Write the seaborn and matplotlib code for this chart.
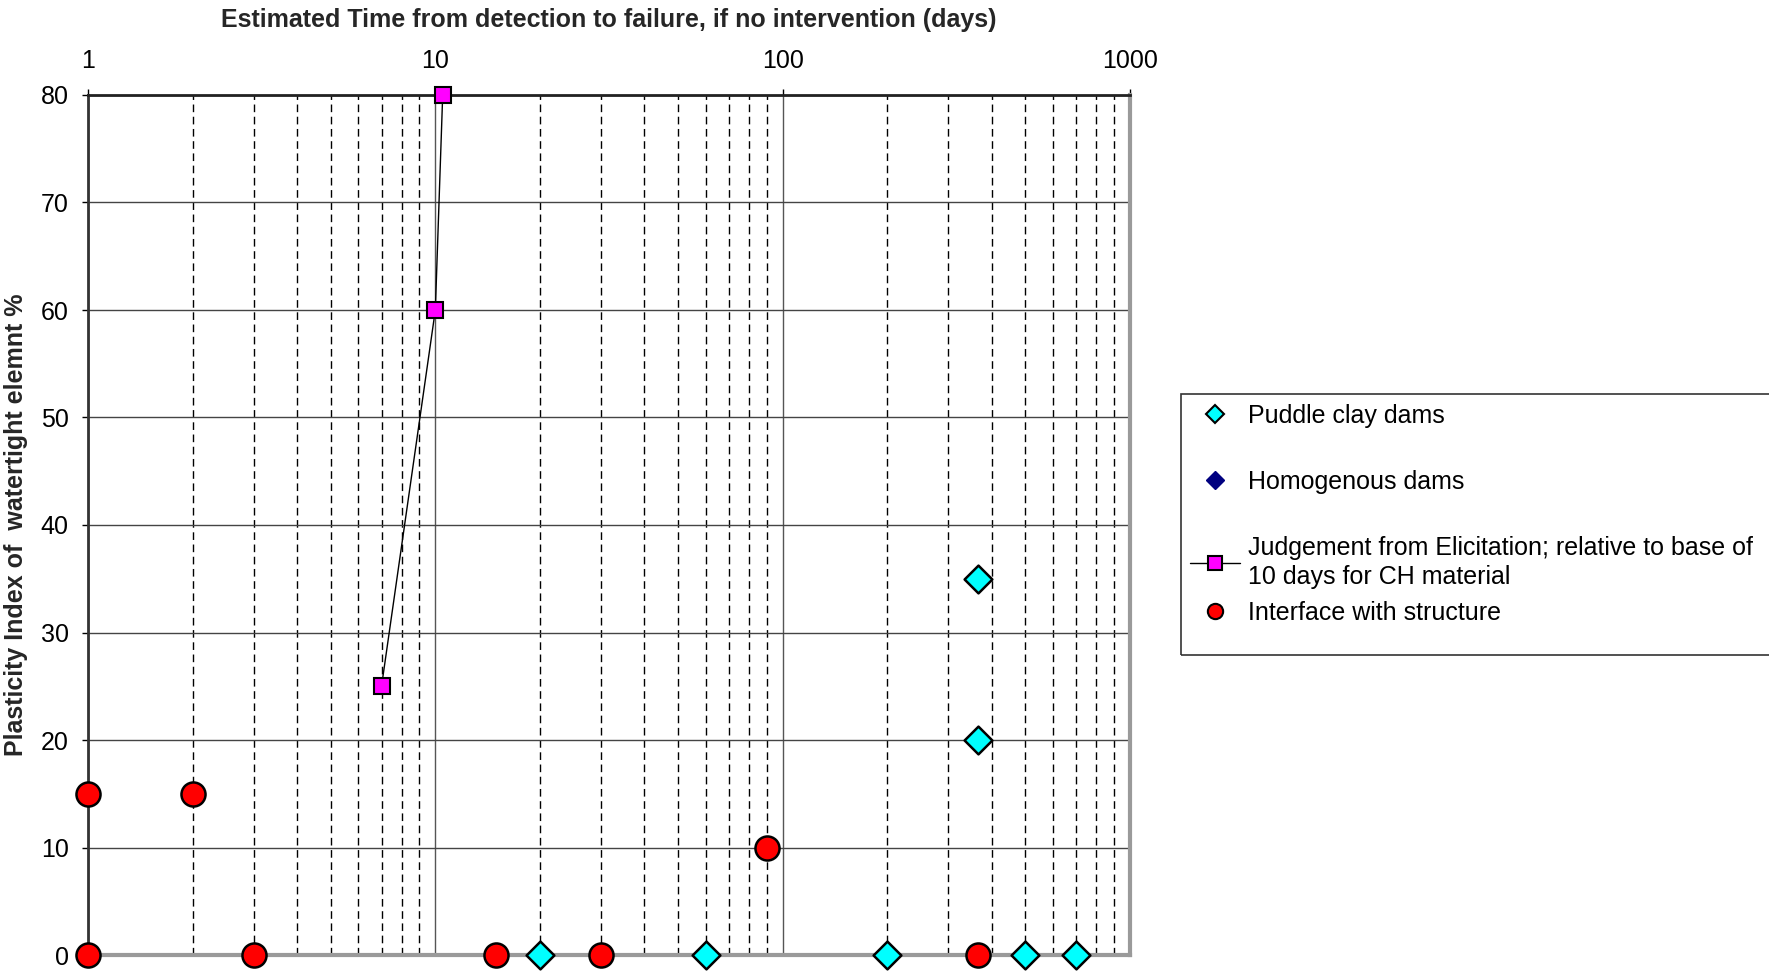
import matplotlib
matplotlib.use("Agg")
import matplotlib.pyplot as plt
from matplotlib.lines import Line2D
from matplotlib.patches import Rectangle
from matplotlib.ticker import FixedLocator, FixedFormatter, NullFormatter
import seaborn as sns
import pandas as pd

# Puddle clay dams
puddle_days = [20, 60, 200, 365, 365, 500, 700]
puddle_pi = [0, 0, 0, 35, 20, 0, 0]

# Homogenous dams (no observations plotted)
homog_days = []
homog_pi = []

# Judgement from elicitation, relative to 10 days for CH material
elicit_days = [7, 10, 10.5]
elicit_pi = [25, 60, 80]

# Interface with structure
interface_days = [1, 2, 1, 3, 15, 30, 90, 365]
interface_pi = [15, 15, 0, 0, 0, 0, 10, 0]

x_ticks = [1, 10, 100, 1000]
x_tick_labels = ["1", "10", "100", "1000"]
y_ticks = [0, 10, 20, 30, 40, 50, 60, 70, 80]

labels = [
    "Puddle clay dams",
    "Homogenous dams",
    "Judgement from Elicitation; relative to base of\n10 days for CH material",
    "Interface with structure",
]

sns.set_style("white")
plt.rcParams["font.family"] = ["Liberation Sans", "DejaVu Sans"]
FS = 18

W, H = 1769, 971
fig = plt.figure(figsize=(W / 100, H / 100), dpi=100)
left, right, top, bottom = 88, 1130, 95, 955
ax = fig.add_axes([left / W, 1 - bottom / H, (right - left) / W, (bottom - top) / H])

ax.set_xscale("log")
ax.set_xlim(1, 1000)
ax.set_ylim(0, 80)

# grid: solid majors, dashed minor decades
ax.set_axisbelow(True)
minor = [m * d for d in (1, 10, 100) for m in range(2, 10)]
ax.xaxis.set_major_locator(FixedLocator(x_ticks))
ax.xaxis.set_major_formatter(FixedFormatter(x_tick_labels))
ax.xaxis.set_minor_locator(FixedLocator(minor))
ax.xaxis.set_minor_formatter(NullFormatter())
ax.yaxis.set_major_locator(FixedLocator(y_ticks))
ax.grid(which="major", axis="y", color="#444444", lw=1.0)
ax.grid(which="major", axis="x", color="#555555", lw=1.0)
ax.grid(which="minor", axis="x", color="black", lw=1.0, ls=(0, (5.5, 3.3)))

ax.xaxis.tick_top()
ax.xaxis.set_label_position("top")
ax.tick_params(axis="x", which="major", top=True, bottom=False, length=4,
               width=1, direction="out", pad=12, labelsize=FS, colors="black")
ax.tick_params(axis="x", which="minor", top=False, bottom=False, length=0)
ax.tick_params(axis="y", which="major", left=True, length=4, width=1,
               direction="out", pad=10, labelsize=FS, colors="black")

for side, col, lw in (("top", "#222222", 2.0), ("left", "#333333", 2.0),
                      ("bottom", "#9a9a9a", 3.0), ("right", "#9a9a9a", 3.0)):
    ax.spines[side].set_visible(True)
    ax.spines[side].set_color(col)
    ax.spines[side].set_linewidth(lw)

# data
df_puddle = pd.DataFrame({"days": puddle_days, "pi": puddle_pi})
df_elicit = pd.DataFrame({"days": elicit_days, "pi": elicit_pi})
df_inter = pd.DataFrame({"days": interface_days, "pi": interface_pi})

sns.lineplot(data=df_elicit, x="days", y="pi", ax=ax, color="black", lw=1.0,
             marker="s", markersize=11, markerfacecolor="#FF00FF",
             markeredgecolor="black", markeredgewidth=1.5, estimator=None,
             sort=False, legend=False, zorder=5, clip_on=False)
sns.scatterplot(data=df_puddle, x="days", y="pi", ax=ax, marker="D", s=200,
                color="#00FFFF", edgecolor="black", linewidth=1.8,
                legend=False, zorder=6, clip_on=False)
sns.scatterplot(data=df_inter, x="days", y="pi", ax=ax, marker="o", s=300,
                color="#FF0000", edgecolor="black", linewidth=1.8,
                legend=False, zorder=6, clip_on=False)

ax.set_xlabel("Estimated Time from detection to failure, if no intervention (days)",
              fontsize=FS, fontweight="bold", labelpad=16)
ax.set_ylabel("Plasticity Index of  watertight elemnt %", fontsize=FS,
              fontweight="bold", labelpad=9)

# legend
h_puddle = Line2D([], [], ls="none", marker="D", markersize=9,
                  markerfacecolor="#00FFFF", markeredgecolor="black", markeredgewidth=1.5)
h_homog = Line2D([], [], ls="none", marker="D", markersize=9,
                 markerfacecolor="#000080", markeredgecolor="#000080")
h_elicit = Line2D([], [], color="black", lw=1.0, marker="s", markersize=10.5,
                  markerfacecolor="#FF00FF", markeredgecolor="black", markeredgewidth=1.5)
h_inter = Line2D([], [], ls="none", marker="o", markersize=11,
                 markerfacecolor="#FF0000", markeredgecolor="black", markeredgewidth=1.5)

fig.patches.append(Rectangle((1181 / W, 1 - 655 / H), (1780 - 1181) / W, (655 - 394) / H,
                             transform=fig.transFigure, fill=False,
                             edgecolor="#333333", lw=1.2))

common = dict(frameon=False, fontsize=FS, handlelength=2.0, handletextpad=0.3,
              borderpad=0, borderaxespad=0, loc="upper left")
leg1 = fig.legend([h_puddle, h_homog, h_elicit], labels[:3],
                  bbox_to_anchor=(1190 / W, 1 - 404 / H), labelspacing=1.68, **common)
leg2 = fig.legend([h_inter], labels[3:],
                  bbox_to_anchor=(1190 / W, 1 - 601 / H), **common)
for leg in (leg1, leg2):
    for t in leg.get_texts():
        t.set_color("black")
        t.set_linespacing(1.25)

fig.savefig("out.png", dpi=100)
